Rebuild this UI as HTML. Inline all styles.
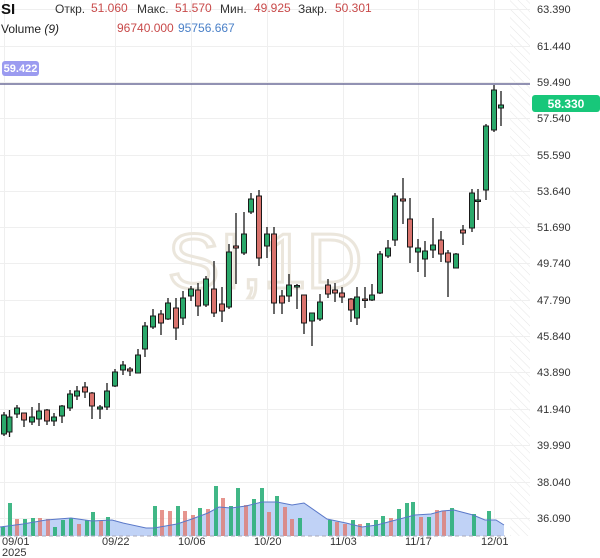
<!DOCTYPE html>
<html><head><meta charset="utf-8"><style>
body{margin:0;background:#fff;}
svg{display:block;font-family:"Liberation Sans",sans-serif;}
</style></head><body>
<svg width="600" height="558" viewBox="0 0 600 558" xmlns="http://www.w3.org/2000/svg">
<defs>
<pattern id="h" width="6" height="6" patternUnits="userSpaceOnUse" patternTransform="rotate(-45)">
<line x1="0" y1="0" x2="0" y2="6" stroke="#e6e6e6" stroke-width="1"/>
</pattern>
</defs>
<rect x="510" y="0" width="20" height="536" fill="url(#h)"/>
<g stroke="#efefef" stroke-width="1">
<line x1="0" y1="9.5" x2="530" y2="9.5"/><line x1="0" y1="46.5" x2="530" y2="46.5"/><line x1="0" y1="82.5" x2="530" y2="82.5"/><line x1="0" y1="118.5" x2="530" y2="118.5"/><line x1="0" y1="155.5" x2="530" y2="155.5"/><line x1="0" y1="191.5" x2="530" y2="191.5"/><line x1="0" y1="227.5" x2="530" y2="227.5"/><line x1="0" y1="263.5" x2="530" y2="263.5"/><line x1="0" y1="300.5" x2="530" y2="300.5"/><line x1="0" y1="336.5" x2="530" y2="336.5"/><line x1="0" y1="372.5" x2="530" y2="372.5"/><line x1="0" y1="409.5" x2="530" y2="409.5"/><line x1="0" y1="445.5" x2="530" y2="445.5"/><line x1="0" y1="482.5" x2="530" y2="482.5"/><line x1="0" y1="518.5" x2="530" y2="518.5"/>
<line x1="4.5" y1="0" x2="4.5" y2="536"/><line x1="115.5" y1="0" x2="115.5" y2="536"/><line x1="191.5" y1="0" x2="191.5" y2="536"/><line x1="267.5" y1="0" x2="267.5" y2="536"/><line x1="343.5" y1="0" x2="343.5" y2="536"/><line x1="418.5" y1="0" x2="418.5" y2="536"/><line x1="494.5" y1="0" x2="494.5" y2="536"/>
</g>
<text x="265" y="288" font-size="78" fill="none" stroke="#ebe6dc" stroke-width="3" text-anchor="middle">SI,1D</text>
<path d="M0,527 L23,524 L46,520 L71,518 L92,521 L112,520 L123,523 L146,528 L154,528 L177,524 L192,519 L208,513 L219,507 L231,508 L246,506 L262,502 L277,502 L292,505 L304,503 L327,519 L346,523 L362,527 L377,525 L392,521 L415,515 L431,514 L442,511 L454,510 L473,515 L485,520 L496,520 L504,525 L504,536 L0,536 Z" fill="#b9cdf5" opacity="0.9"/>
<!-- volume bars -->
<g fill="#2db07a" opacity="0.9">
<rect x="1" y="527" width="4" height="9"/><rect x="8" y="503" width="4" height="33"/><rect x="23" y="519" width="4" height="17"/><rect x="31" y="518" width="4" height="18"/><rect x="53" y="527" width="4" height="9"/><rect x="61" y="520" width="4" height="16"/><rect x="69" y="518" width="4" height="18"/><rect x="85" y="520" width="4" height="16"/><rect x="91" y="512" width="4" height="24"/><rect x="106" y="517" width="4" height="19"/><rect x="153" y="506" width="4" height="30"/><rect x="176" y="506" width="4" height="30"/><rect x="198" y="508" width="4" height="28"/><rect x="214" y="486" width="4" height="50"/><rect x="229" y="506" width="4" height="30"/><rect x="236" y="488" width="4" height="48"/><rect x="252" y="499" width="4" height="37"/><rect x="260" y="488" width="4" height="48"/><rect x="275" y="496" width="4" height="40"/><rect x="298" y="518" width="4" height="18"/><rect x="328" y="520" width="4" height="16"/><rect x="351" y="520" width="4" height="16"/><rect x="366" y="523" width="4" height="13"/><rect x="374" y="520" width="4" height="16"/><rect x="381" y="516" width="4" height="20"/><rect x="397" y="509" width="4" height="27"/><rect x="405" y="503" width="4" height="33"/><rect x="411" y="502" width="4" height="34"/><rect x="427" y="517" width="4" height="19"/><rect x="450" y="508" width="4" height="28"/><rect x="472" y="514" width="4" height="22"/><rect x="487" y="511" width="4" height="25"/>
</g>
<g fill="#e07b72" opacity="0.8">
<rect x="15" y="519" width="4" height="17"/><rect x="38" y="518" width="4" height="18"/><rect x="46" y="519" width="4" height="17"/><rect x="77" y="524" width="4" height="12"/><rect x="99" y="521" width="4" height="15"/><rect x="160" y="510" width="4" height="26"/><rect x="168" y="511" width="4" height="25"/><rect x="183" y="511" width="4" height="25"/><rect x="191" y="515" width="4" height="21"/><rect x="206" y="509" width="4" height="27"/><rect x="221" y="498" width="4" height="38"/><rect x="244" y="505" width="4" height="31"/><rect x="267" y="512" width="4" height="24"/><rect x="283" y="507" width="4" height="29"/><rect x="290" y="519" width="4" height="17"/><rect x="335" y="522" width="4" height="14"/><rect x="343" y="524" width="4" height="12"/><rect x="358" y="524" width="4" height="12"/><rect x="389" y="518" width="4" height="18"/><rect x="419" y="517" width="4" height="19"/><rect x="435" y="510" width="4" height="26"/><rect x="442" y="511" width="4" height="25"/>
</g>
<path d="M0,527 L23,524 L46,520 L71,518 L92,521 L112,520 L123,523 L146,528 L154,528 L177,524 L192,519 L208,513 L219,507 L231,508 L246,506 L262,502 L277,502 L292,505 L304,503 L327,519 L346,523 L362,527 L377,525 L392,521 L415,515 L431,514 L442,511 L454,510 L473,515 L485,520 L496,520 L504,525" fill="none" stroke="#5a78c8" stroke-width="1"/>
<line x1="0" y1="536" x2="505" y2="536" stroke="#aab" stroke-dasharray="4,3"/>
<line x1="0" y1="84" x2="530" y2="84" stroke="#6e6e9a" stroke-width="1.5"/>
<!-- wicks -->
<g stroke="#1a1a1a" stroke-width="1.3">
<line x1="4" y1="412" x2="4" y2="436"/><line x1="9.5" y1="410" x2="9.5" y2="437"/><line x1="17" y1="405" x2="17" y2="418"/><line x1="24" y1="413" x2="24" y2="427"/><line x1="32" y1="407" x2="32" y2="425"/><line x1="39" y1="403" x2="39" y2="426"/><line x1="47" y1="409" x2="47" y2="425"/><line x1="54" y1="413" x2="54" y2="426"/><line x1="62" y1="405" x2="62" y2="423"/><line x1="70" y1="390" x2="70" y2="411"/><line x1="77" y1="386" x2="77" y2="400"/><line x1="85" y1="382" x2="85" y2="398"/><line x1="92" y1="392" x2="92" y2="419"/><line x1="100" y1="405" x2="100" y2="419"/><line x1="107" y1="383" x2="107" y2="410"/><line x1="115" y1="369" x2="115" y2="387"/><line x1="123" y1="361" x2="123" y2="375"/><line x1="130" y1="367" x2="130" y2="376"/><line x1="138" y1="349" x2="138" y2="373"/><line x1="145" y1="322" x2="145" y2="357"/><line x1="153" y1="309" x2="153" y2="329"/><line x1="161" y1="310" x2="161" y2="335"/><line x1="168" y1="298" x2="168" y2="320"/><line x1="176" y1="298" x2="176" y2="340"/><line x1="183" y1="291" x2="183" y2="325"/><line x1="191" y1="286" x2="191" y2="301"/><line x1="198" y1="283" x2="198" y2="316"/><line x1="206" y1="276" x2="206" y2="307"/><line x1="214" y1="261" x2="214" y2="317"/><line x1="222" y1="287" x2="222" y2="322"/><line x1="229" y1="244" x2="229" y2="309"/><line x1="236" y1="213" x2="236" y2="284"/><line x1="244" y1="212" x2="244" y2="255"/><line x1="251" y1="193" x2="251" y2="214"/><line x1="259" y1="190" x2="259" y2="266"/><line x1="267" y1="227" x2="267" y2="258"/><line x1="274" y1="227" x2="274" y2="314"/><line x1="282" y1="290" x2="282" y2="314"/><line x1="289" y1="274" x2="289" y2="302"/><line x1="297" y1="284" x2="297" y2="309"/><line x1="304" y1="295" x2="304" y2="334"/><line x1="312" y1="313" x2="312" y2="346"/><line x1="320" y1="294" x2="320" y2="321"/><line x1="328" y1="279" x2="328" y2="298"/><line x1="335" y1="283" x2="335" y2="302"/><line x1="342" y1="287" x2="342" y2="303"/><line x1="351" y1="298" x2="351" y2="322"/><line x1="357" y1="287" x2="357" y2="325"/><line x1="365" y1="287" x2="365" y2="308"/><line x1="372" y1="284" x2="372" y2="301"/><line x1="380" y1="251" x2="380" y2="294"/><line x1="388" y1="240" x2="388" y2="258"/><line x1="395" y1="193" x2="395" y2="246"/><line x1="403" y1="178" x2="403" y2="224"/><line x1="410" y1="198" x2="410" y2="263"/><line x1="418" y1="239" x2="418" y2="272"/><line x1="425" y1="241" x2="425" y2="277"/><line x1="433" y1="218" x2="433" y2="258"/><line x1="441" y1="231" x2="441" y2="262"/><line x1="448" y1="250" x2="448" y2="297"/><line x1="456" y1="253" x2="456" y2="268"/><line x1="463" y1="225" x2="463" y2="245"/><line x1="472" y1="189" x2="472" y2="232"/><line x1="478" y1="189" x2="478" y2="220"/><line x1="486" y1="124" x2="486" y2="200"/><line x1="494" y1="85" x2="494" y2="132"/><line x1="501" y1="91" x2="501" y2="126"/>
</g>
<!-- green bodies -->
<g fill="#2aa86a" stroke="#1a1a1a" stroke-width="1">
<rect x="1.5" y="415" width="5" height="19"/><rect x="7" y="417" width="5" height="15"/><rect x="14.5" y="408" width="5" height="6"/><rect x="29.5" y="417" width="5" height="5"/><rect x="36.5" y="411" width="5" height="8"/><rect x="51.5" y="417" width="5" height="4"/><rect x="59.5" y="406" width="5" height="10"/><rect x="67.5" y="394" width="5" height="14"/><rect x="74.5" y="391" width="5" height="5"/><rect x="97.5" y="407" width="5" height="2"/><rect x="104.5" y="391" width="5" height="16"/><rect x="112.5" y="372" width="5" height="14"/><rect x="120.5" y="365" width="5" height="5"/><rect x="135.5" y="355" width="5" height="18"/><rect x="142.5" y="326" width="5" height="23"/><rect x="150.5" y="316" width="5" height="11"/><rect x="165.5" y="303" width="5" height="16"/><rect x="180.5" y="298" width="5" height="20"/><rect x="188.5" y="289" width="5" height="7"/><rect x="203.5" y="279" width="5" height="26"/><rect x="226.5" y="252" width="5" height="55"/><rect x="241.5" y="234" width="5" height="19"/><rect x="248.5" y="199" width="5" height="13"/><rect x="264.5" y="234" width="5" height="12"/><rect x="286.5" y="285" width="5" height="11"/><rect x="294.5" y="285.5" width="5" height="1.5"/><rect x="309.5" y="313" width="5" height="8"/><rect x="317.5" y="302" width="5" height="17"/><rect x="354.5" y="297" width="5" height="21"/><rect x="369.5" y="295" width="5" height="5"/><rect x="377.5" y="254" width="5" height="39"/><rect x="385.5" y="248" width="5" height="8"/><rect x="392.5" y="196" width="5" height="44"/><rect x="415.5" y="248" width="5" height="4"/><rect x="422.5" y="251" width="5" height="8"/><rect x="430.5" y="245" width="5" height="5"/><rect x="453.5" y="254" width="5" height="14"/><rect x="469.5" y="193" width="5" height="35"/><rect x="475.5" y="200" width="5" height="1.5"/><rect x="483.5" y="126" width="5" height="64"/><rect x="491.5" y="90" width="5" height="40"/><rect x="498.5" y="105" width="5" height="3"/>
</g>
<!-- red bodies -->
<g fill="#d9736d" stroke="#1a1a1a" stroke-width="1">
<rect x="21.5" y="413" width="5" height="7"/><rect x="44.5" y="410" width="5" height="11"/><rect x="82.5" y="387" width="5" height="5"/><rect x="89.5" y="393" width="5" height="13"/><rect x="127.5" y="369" width="5" height="2"/><rect x="158.5" y="314" width="5" height="9"/><rect x="173.5" y="308" width="5" height="20"/><rect x="195.5" y="290" width="5" height="16"/><rect x="211.5" y="289" width="5" height="24"/><rect x="219.5" y="304" width="5" height="7"/><rect x="233.5" y="246" width="5" height="2"/><rect x="256.5" y="196" width="5" height="62"/><rect x="271.5" y="234" width="5" height="69"/><rect x="279.5" y="296" width="5" height="7"/><rect x="301.5" y="295" width="5" height="28"/><rect x="325.5" y="285" width="5" height="9"/><rect x="332.5" y="290" width="5" height="3"/><rect x="339.5" y="293" width="5" height="4"/><rect x="348.5" y="299" width="5" height="11"/><rect x="362.5" y="299" width="5" height="1.5"/><rect x="400.5" y="199" width="5" height="2"/><rect x="407.5" y="219" width="5" height="28"/><rect x="438.5" y="240" width="5" height="14"/><rect x="445.5" y="253" width="5" height="9"/><rect x="460.5" y="230" width="5" height="3"/>
</g>
<g font-size="11" fill="#333">
<text x="537" y="13">63.390</text><text x="537" y="50">61.440</text><text x="537" y="86">59.490</text><text x="537" y="122">57.540</text><text x="537" y="159">55.590</text><text x="537" y="195">53.640</text><text x="537" y="231">51.690</text><text x="537" y="267">49.740</text><text x="537" y="304">47.790</text><text x="537" y="340">45.840</text><text x="537" y="376">43.890</text><text x="537" y="413">41.940</text><text x="537" y="449">39.990</text><text x="537" y="486">38.040</text><text x="537" y="522">36.090</text>
<text x="2" y="545">09/01</text><text x="2" y="556">2025</text><text x="102" y="545">09/22</text><text x="178" y="545">10/06</text><text x="254" y="545">10/20</text><text x="330" y="545">11/03</text><text x="405" y="545">11/17</text><text x="481" y="545">12/01</text>
</g>
<rect x="532" y="95" width="68" height="17" rx="3" fill="#18c77a"/>
<text x="566" y="108" font-size="12" font-weight="bold" fill="#fff" text-anchor="middle">58.330</text>
<rect x="2" y="61" width="37" height="15" rx="3" fill="#9b9bf0"/>
<text x="20.5" y="72" font-size="11" font-weight="bold" fill="#fff" text-anchor="middle">59.422</text>
<text x="1" y="14" font-size="15" font-weight="bold" fill="#111">SI</text>
<g font-size="12">
<text x="55" y="13" fill="#333">Откр.</text><text x="91" y="12" fill="#c84a4a">51.060</text>
<text x="137" y="13" fill="#333">Макс.</text><text x="175" y="12" fill="#c84a4a">51.570</text>
<text x="220" y="13" fill="#333">Мин.</text><text x="254" y="12" fill="#c84a4a">49.925</text>
<text x="298" y="13" fill="#333">Закр.</text><text x="335" y="12" fill="#c84a4a">50.301</text>
<text x="1" y="33" fill="#222">Volume <tspan font-style="italic">(9)</tspan></text>
<text x="117" y="32" fill="#c84a4a">96740.000</text><text x="178" y="32" fill="#4a80c8">95756.667</text>
</g>
</svg>
</body></html>
